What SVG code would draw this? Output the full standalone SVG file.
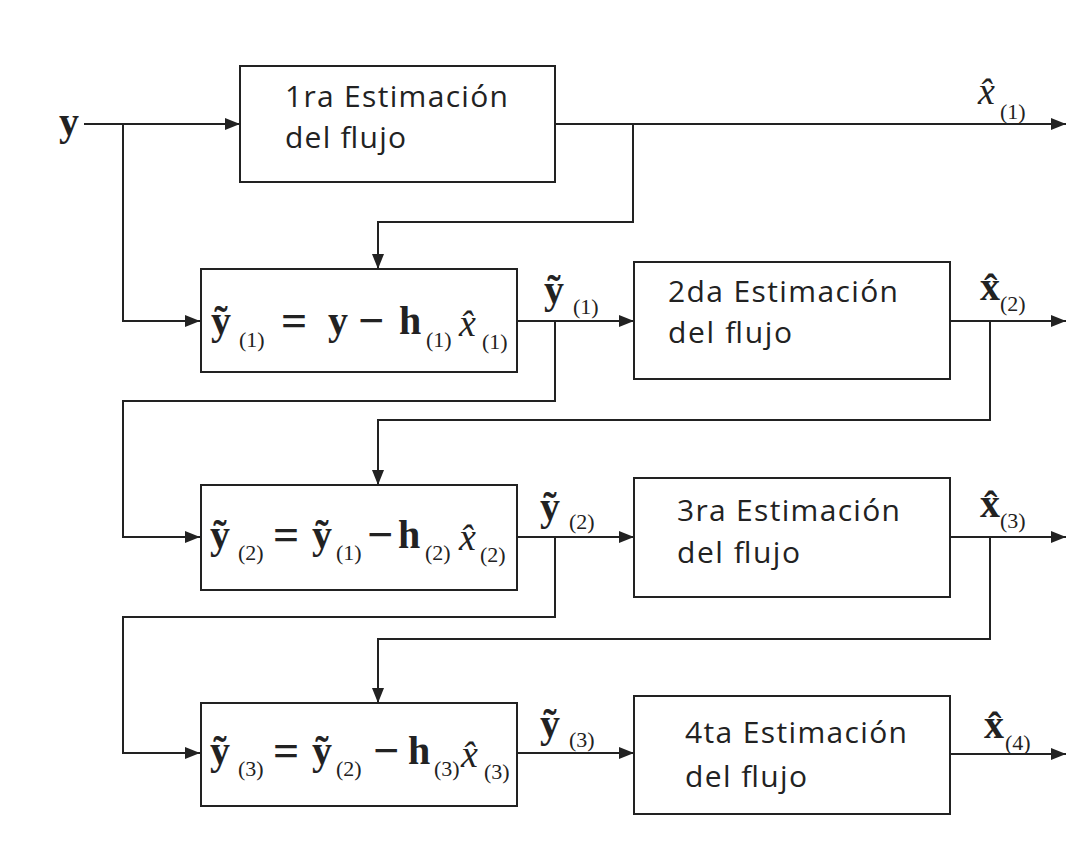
<svg xmlns="http://www.w3.org/2000/svg" width="1086" height="855" viewBox="0 0 1086 855">
<defs>
<marker id="ah" markerWidth="15" markerHeight="12" refX="15" refY="6" orient="auto" markerUnits="userSpaceOnUse">
<path d="M0,0 L15,6 L0,12 z" fill="#222"/>
</marker>
</defs>
<style>
.box{fill:#fff;stroke:#222;stroke-width:2}
.ln{fill:none;stroke:#222;stroke-width:2}
.arr{fill:none;stroke:#222;stroke-width:2;marker-end:url(#ah)}
.lbl{font-family:"Open Sans","Noto Sans",sans-serif;font-size:30px;fill:#222}
.m{font-family:"Liberation Serif",serif;font-weight:bold;font-size:40px;fill:#222}
.op{font-family:"Liberation Serif",serif;font-weight:bold;font-size:46px;fill:#222}
.s{font-family:"Liberation Serif",serif;font-size:22px;fill:#222}
.xi{font-family:"Liberation Serif",serif;font-style:italic;font-size:38px;fill:#222}
</style>
<rect width="1086" height="855" fill="#fff"/>
<g id="connectors">
<line class="arr" x1="84" y1="124" x2="240" y2="124"/>
<polyline class="arr" points="123,124 123,321 200,321"/>
<line class="arr" x1="555" y1="124" x2="1066" y2="124"/>
<polyline class="arr" points="633,124 633,222 378,222 378,269"/>
<line class="arr" x1="517" y1="321" x2="634" y2="321"/>
<polyline class="arr" points="555,321 555,401 123,401 123,537 200,537"/>
<line class="arr" x1="950" y1="321" x2="1066" y2="321"/>
<polyline class="arr" points="990,321 990,420 378,420 378,485"/>
<line class="arr" x1="517" y1="537" x2="634" y2="537"/>
<polyline class="arr" points="555,537 555,617 123,617 123,753 200,753"/>
<line class="arr" x1="950" y1="537" x2="1066" y2="537"/>
<polyline class="arr" points="990,537 990,639 378,639 378,703"/>
<line class="arr" x1="517" y1="753" x2="634" y2="753"/>
<line class="arr" x1="950" y1="754" x2="1066" y2="754"/>
</g>
<g id="input-y"><text class="m" x="59" y="135">y</text></g>
<g id="est1">
<rect class="box" x="240" y="66" width="315" height="116"/>
<text class="lbl" x="285" y="107" textLength="223">1ra Estimación</text>
<text class="lbl" x="285" y="148" textLength="121">del flujo</text>
</g>
<g id="eq1">
<rect class="box" x="201" y="269" width="316" height="103"/>
<text class="m" x="211" y="334">ỹ</text>
<text class="s" x="239" y="347">(1)</text>
<text class="op" x="281" y="336">=</text>
<text class="m" x="328" y="334">y</text>
<text class="op" x="358" y="336">−</text>
<text class="m" x="399" y="334">h</text>
<text class="s" x="426" y="347">(1)</text>
<text class="xi" x="459" y="336">x̂</text>
<text class="s" x="482" y="349">(1)</text>
</g>
<g id="est2">
<rect class="box" x="634" y="262" width="316" height="117"/>
<text class="lbl" x="668" y="302" textLength="230">2da Estimación</text>
<text class="lbl" x="668" y="343" textLength="124">del flujo</text>
</g>
<g id="eq2">
<rect class="box" x="201" y="485" width="316" height="105"/>
<text class="m" x="210" y="548">ỹ</text>
<text class="s" x="238" y="560">(2)</text>
<text class="op" x="273" y="550">=</text>
<text class="m" x="312" y="548">ỹ</text>
<text class="s" x="336" y="560">(1)</text>
<text class="op" x="367" y="550">−</text>
<text class="m" x="398" y="548">h</text>
<text class="s" x="425" y="560">(2)</text>
<text class="xi" x="459" y="550">x̂</text>
<text class="s" x="480" y="562">(2)</text>
</g>
<g id="est3">
<rect class="box" x="634" y="478" width="316" height="119"/>
<text class="lbl" x="677" y="521" textLength="223">3ra Estimación</text>
<text class="lbl" x="677" y="563" textLength="123">del flujo</text>
</g>
<g id="eq3">
<rect class="box" x="201" y="703" width="316" height="103"/>
<text class="m" x="210" y="764">ỹ</text>
<text class="s" x="238" y="776">(3)</text>
<text class="op" x="273" y="766">=</text>
<text class="m" x="312" y="764">ỹ</text>
<text class="s" x="336" y="776">(2)</text>
<text class="op" x="373" y="766">−</text>
<text class="m" x="408" y="764">h</text>
<text class="s" x="434" y="776">(3)</text>
<text class="xi" x="461" y="767">x̂</text>
<text class="s" x="484" y="779">(3)</text>
</g>
<g id="est4">
<rect class="box" x="634" y="696" width="316" height="118"/>
<text class="lbl" x="685" y="743" textLength="222">4ta Estimación</text>
<text class="lbl" x="685" y="787" textLength="122">del flujo</text>
</g>
<g id="labels">
<text class="xi" x="978" y="104">x̂</text>
<text class="s" x="1000" y="119">(1)</text>
<text class="m" x="544" y="303">ỹ</text>
<text class="s" x="573" y="314">(1)</text>
<text class="m" x="980" y="300">x̂</text>
<text class="s" x="1000" y="311">(2)</text>
<text class="m" x="540" y="520">ỹ</text>
<text class="s" x="569" y="529">(2)</text>
<text class="m" x="980" y="517">x̂</text>
<text class="s" x="1000" y="528">(3)</text>
<text class="m" x="540" y="737">ỹ</text>
<text class="s" x="569" y="747">(3)</text>
<text class="m" x="984" y="738">x̂</text>
<text class="s" x="1005" y="750">(4)</text>
</g>
</svg>
